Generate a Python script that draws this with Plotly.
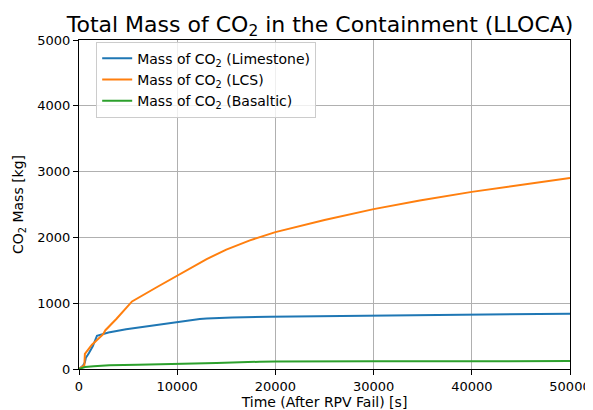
import plotly.graph_objects as go

# Time after RPV failure [s] and CO2 mass [kg]
t_limestone = [0, 200, 400, 600, 700, 1000, 1400, 1830, 2200, 3000, 4800, 7200, 10000,
               11000, 12300, 13000, 14000, 15600, 19400, 30000, 40000, 50000]
m_limestone = [0, 20, 50, 100, 170, 240, 345, 506, 525, 555, 605, 658, 714,
               737, 760, 768, 776, 784, 795, 812, 827, 840]

t_lcs = [0, 200, 400, 550, 600, 1000, 1320, 2440, 2690, 3800, 5400, 8000, 10150, 12000,
         13000, 15000, 17400, 20000, 25000, 30000, 34700, 40000, 45000, 50000]
m_lcs = [0, 20, 40, 60, 230, 300, 369, 525, 590, 760, 1027, 1250, 1433, 1590,
         1670, 1815, 1955, 2080, 2265, 2430, 2562, 2692, 2800, 2903]

t_basaltic = [0, 300, 600, 1500, 3100, 6000, 10000, 14000, 18400, 20000, 30000, 40000, 50000]
m_basaltic = [0, 15, 30, 42, 56, 66, 76, 92, 110, 113, 117, 119, 120]

names = ["Mass of CO<sub>2</sub> (Limestone)",
         "Mass of CO<sub>2</sub> (LCS)",
         "Mass of CO<sub>2</sub> (Basaltic)"]
colors = ["#1f77b4", "#ff7f0e", "#2ca02c"]

x_ticks = [0, 10000, 20000, 30000, 40000, 50000]
y_ticks = [0, 1000, 2000, 3000, 4000, 5000]

FONT = "DejaVu Sans, Liberation Sans, sans-serif"

fig = go.Figure()
for t, m, n, c in zip([t_limestone, t_lcs, t_basaltic],
                      [m_limestone, m_lcs, m_basaltic], names, colors):
    fig.add_trace(go.Scatter(x=t, y=m, mode="lines", name=n,
                             line=dict(color=c, width=2)))

axis_common = dict(
    showline=True, linecolor="black", linewidth=1, mirror=True,
    showgrid=True, gridcolor="#b0b0b0", gridwidth=0.8,
    ticks="outside", ticklen=5, tickcolor="black", tickwidth=1,
    zeroline=False, automargin=False,
    tickfont=dict(size=13, color="black", family=FONT),
)

# page has an 8px body margin, so the figure is sized 585x402
W, H = 585, 402
fig.update_layout(
    width=W, height=H, autosize=False,
    paper_bgcolor="white", plot_bgcolor="white",
    margin=dict(l=71, r=23, t=32, b=41, autoexpand=False),
    font=dict(family=FONT, color="black"),
    title=dict(text="Total Mass of CO<sub>2</sub> in the Containment (LLOCA)",
               x=0.491, xref="paper", xanchor="center",
               y=1 - 16 / H, yref="container", yanchor="middle",
               font=dict(size=22, color="black", family=FONT),
               automargin=False),
    xaxis=dict(range=[0, 50000], tickvals=x_ticks,
               ticktext=[str(v) for v in x_ticks],
               title=dict(text="Time (After RPV Fail) [s]", standoff=6,
                          font=dict(size=14, family=FONT)),
               **axis_common),
    yaxis=dict(range=[0, 5000], tickvals=y_ticks,
               ticktext=[str(v) for v in y_ticks],
               title=dict(text="CO<sub>2</sub> Mass [kg]", standoff=10,
                          font=dict(size=14, family=FONT)),
               **axis_common),
    legend=dict(x=0.035, y=0.995, xanchor="left", yanchor="top",
                bgcolor="rgba(255,255,255,0.8)", bordercolor="#cccccc",
                borderwidth=1, font=dict(size=14, family=FONT),
                itemwidth=30),
    showlegend=True,
)

fig.write_html("out.html")
